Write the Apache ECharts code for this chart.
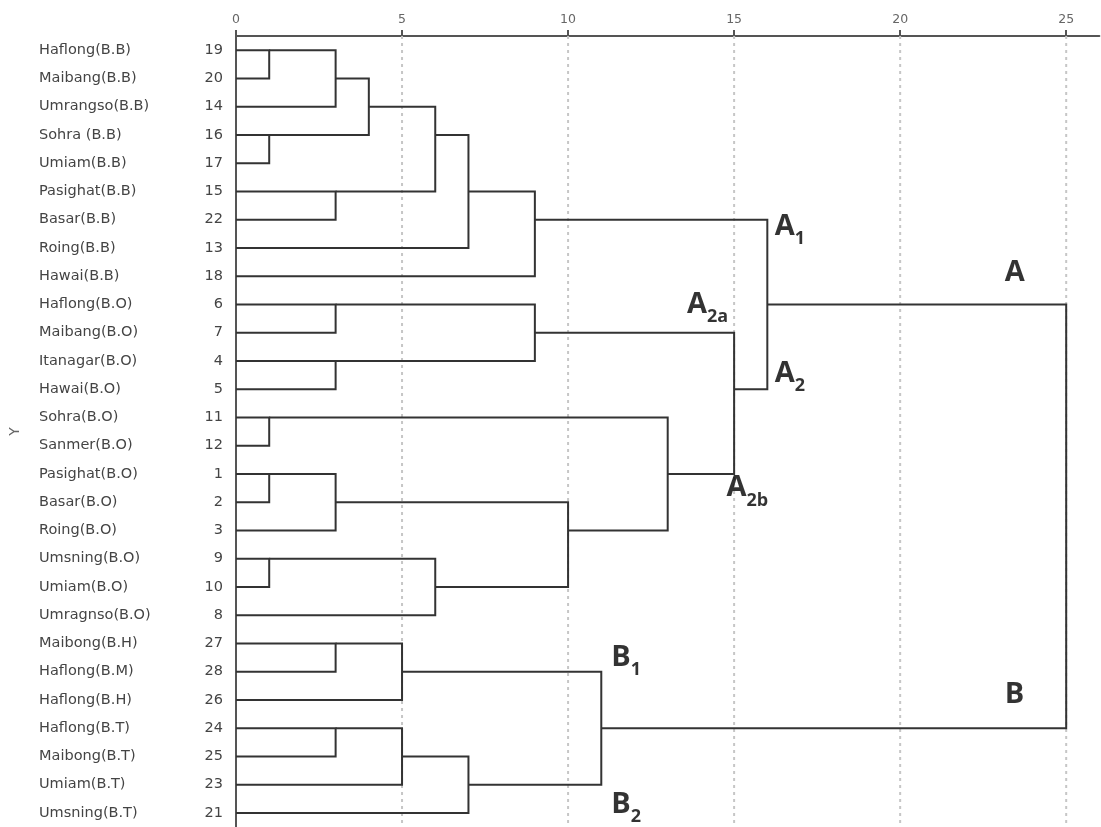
<!DOCTYPE html>
<html><head><meta charset="utf-8">
<script src="https://cdn.jsdelivr.net/npm/echarts@6/dist/echarts.min.js"></script>
<style>html,body{margin:0;padding:0;background:#fff}#c{width:1101px;height:827px}</style>
</head><body><div id="c"></div><script>
// Leaves (top to bottom)
const leafNames = ['Haflong(B.B)','Maibang(B.B)','Umrangso(B.B)','Sohra (B.B)','Umiam(B.B)','Pasighat(B.B)','Basar(B.B)','Roing(B.B)','Hawai(B.B)',
  'Haflong(B.O)','Maibang(B.O)','Itanagar(B.O)','Hawai(B.O)','Sohra(B.O)','Sanmer(B.O)','Pasighat(B.O)','Basar(B.O)','Roing(B.O)',
  'Umsning(B.O)','Umiam(B.O)','Umragnso(B.O)','Maibong(B.H)','Haflong(B.M)','Haflong(B.H)','Haflong(B.T)','Maibong(B.T)','Umiam(B.T)','Umsning(B.T)'];
const leafIds = [19,20,14,16,17,15,22,13,18,6,7,4,5,11,12,1,2,3,9,10,8,27,28,26,24,25,23,21];
// Merge steps: new cluster ids start at 28 (after the 28 leaves)
const mergeLeft   = [0,3,5,28,31,32,33,34, 9,11,36,13,15,40,18,42,41,39,38,35,21,48,24,50,51,49,47];
const mergeRight  = [1,4,6, 2,29,30, 7, 8,10,12,37,14,16,17,19,20,43,44,45,46,22,23,25,26,27,52,53];
const mergeHeight = [1,1,3, 3, 4, 6, 7, 9, 3, 3, 9, 1, 1, 3, 1, 6,10,13,15,16, 3, 5, 3, 5, 7,11,25];
// Axis ticks with dotted reference lines
const xTicks = [5,10,15,20,25];
// Cluster annotations (position in distance units / row units)
const annMain = ['A','A','A','A','A','B','B','B'];
const annSub  = ['1','','2a','2','2b','1','','2'];
const annX    = [16.22,23.15,13.58,16.22,14.77,11.3,23.15,11.3];
const annRow  = [6.38,7.99,9.12,11.58,15.62,21.62,22.94,26.84];

const nodeRow = leafNames.map((_, i) => i);
const nodeH = leafNames.map(() => 0);
const links = [];
mergeLeft.forEach((a, k) => {
  const b = mergeRight[k], h = mergeHeight[k];
  links.push([nodeH[a], nodeRow[a], nodeH[b], nodeRow[b], h]);
  nodeRow.push(Math.floor((nodeRow[a] + nodeRow[b]) / 2));
  nodeH.push(h);
});

const chart = echarts.init(document.getElementById('c'), null, {renderer:'canvas'});
const axisCol = '#555';
chart.setOption({
  animation: false,
  backgroundColor: '#fff',
  grid: {left: 230, top: 36, width: 869.4, bottom: 0, containLabel: false},
  xAxis: {
    type: 'value', position: 'top', min: 0, max: 26, interval: 5,
    axisLine: {show: true, onZero: false, lineStyle: {color: axisCol, width: 2}},
    axisTick: {show: true, length: 6, lineStyle: {color: axisCol, width: 2}},
    axisLabel: {color: '#666', fontFamily: 'DejaVu Sans', fontSize: 12.5, margin: 10, showMaxLabel: false},
    splitLine: {show: false}
  },
  yAxis: [{
    type: 'category', inverse: true, data: leafNames,
    name: 'Y', nameLocation: 'middle', nameGap: 214, nameRotate: 90,
    nameTextStyle: {color: '#666', fontFamily: 'DejaVu Sans', fontSize: 14},
    axisLine: {show: true, onZero: false, lineStyle: {color: axisCol, width: 2}},
    axisTick: {show: false},
    axisLabel: {
      margin: 13,
      formatter: (v, i) => '{n|' + v + '}{k|' + leafIds[i] + '}',
      rich: {
        n: {width: 160, align: 'left', color: '#444', fontFamily: 'DejaVu Sans', fontSize: 14.5},
        k: {width: 24, align: 'right', color: '#444', fontFamily: 'DejaVu Sans', fontSize: 14.5}
      }
    },
    splitLine: {show: false}
  }, {
    type: 'value', inverse: true, min: -0.5, max: leafNames.length - 0.5, show: false,
    splitLine: {show: false}
  }],
  series: [
    {
      type: 'custom', z: 1, silent: true,
      data: xTicks.map(v => [v, 0]),
      encode: {x: 0, y: 1},
      renderItem: (params, api) => {
        const cs = params.coordSys;
        const x = api.coord([api.value(0), 0])[0];
        return {type: 'line', shape: {x1: x, y1: cs.y, x2: x, y2: cs.y + cs.height},
          style: {stroke: '#c6c6c6', lineWidth: 2, lineDash: [3, 4]}};
      }
    },
    {
      type: 'custom', z: 3, silent: true,
      data: links,
      encode: {x: [0, 2, 4], y: [1, 3]},
      renderItem: (params, api) => {
        const p1 = api.coord([api.value(0), api.value(1)]);
        const p2 = api.coord([api.value(4), api.value(1)]);
        const p3 = api.coord([api.value(4), api.value(3)]);
        const p4 = api.coord([api.value(2), api.value(3)]);
        return {type: 'polyline', shape: {points: [p1, p2, p3, p4]},
          style: {stroke: '#333', lineWidth: 2, fill: null}};
      }
    },
    {
      type: 'scatter', z: 4, silent: true, symbolSize: 0, yAxisIndex: 1,
      data: annX.map((x, i) => [x, annRow[i]]),
      label: {
        show: true, position: 'right', distance: 0,
        formatter: p => '{a|' + annMain[p.dataIndex] + '}' + (annSub[p.dataIndex] ? '{s|' + annSub[p.dataIndex] + '}' : ''),
        rich: {
          a: {fontFamily: 'Open Sans', fontWeight: 'bold', fontSize: 29, color: '#000', lineHeight: 36, verticalAlign: 'top'},
          s: {fontFamily: 'Open Sans', fontWeight: 'bold', fontSize: 18, color: '#000', lineHeight: 36, verticalAlign: 'bottom'}
        }
      }
    }
  ]
});
</script></body></html>
